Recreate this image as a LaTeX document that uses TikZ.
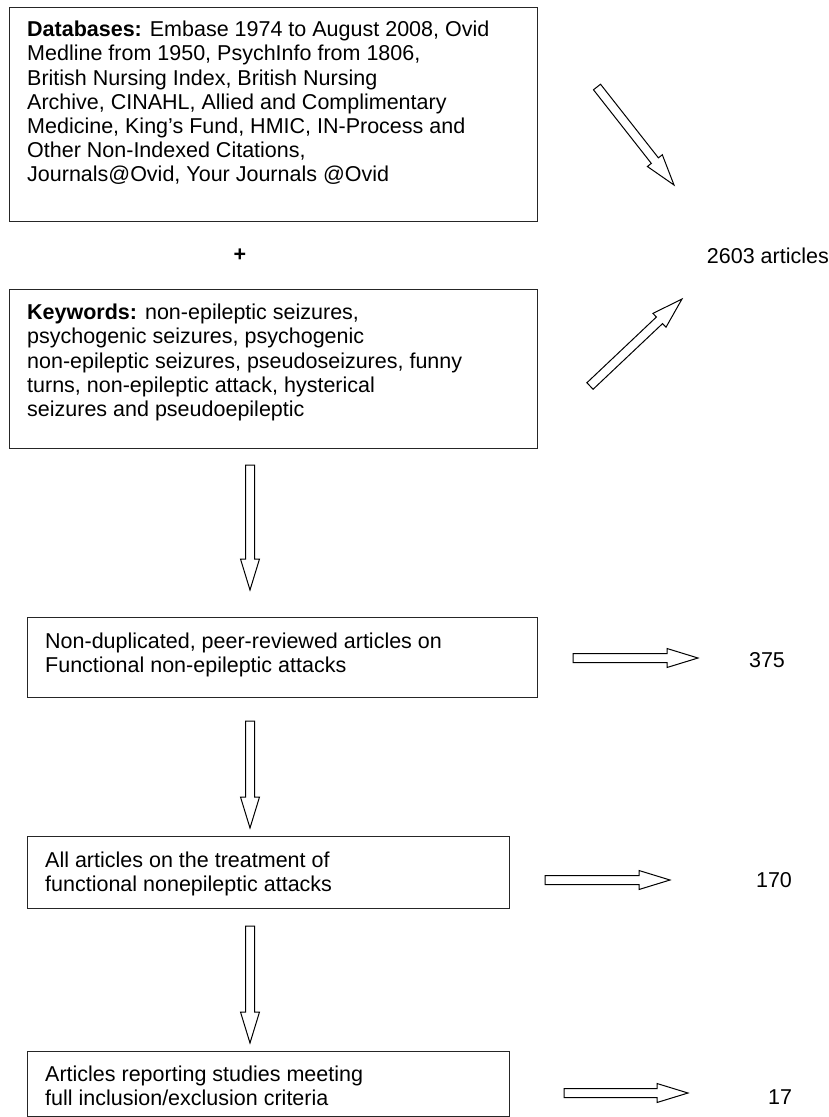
\documentclass[tikz,border=0pt]{standalone}
\usepackage{fontspec}
\setmainfont{Liberation Sans}
\usetikzlibrary{calc,positioning}

\tikzset{
  box/.style={draw=black!85, line width=1.2pt, anchor=north west, inner sep=0pt},
  boxtext/.style={anchor=north west, align=left, inner sep=0pt,
    font=\fontsize{21.5}{24.2}\selectfont},
  count/.style={inner sep=0pt, font=\fontsize{21.5}{24}\selectfont},
  blockarrow/.style={draw=black, line width=1pt, fill=white, line join=miter},
}

% hollow block arrow from #1 to #2
\newcommand{\hollowarrow}[2]{%
  \coordinate (hb) at ($(#2)!31pt!(#1)$);
  \draw[blockarrow] ($(#1)!4.5pt!90:(#2)$) -- ($(hb)!4.5pt!-90:(#1)$)
    -- ($(hb)!9.5pt!-90:(#1)$) -- (#2) -- ($(hb)!9.5pt!90:(#1)$)
    -- ($(hb)!4.5pt!90:(#1)$) -- ($(#1)!4.5pt!-90:(#2)$) -- cycle;
}

\begin{document}
\begin{tikzpicture}[x=1pt, y=-1pt]
\fill[white] (0,0) rectangle (829,1117);
\useasboundingbox (0,0) rectangle (829,1117);

%Search
\node (db) [box, minimum width=528pt, minimum height=214pt] at (9,7) {};
\node (dbtext) [boxtext] at (27,21) {\textbf{Databases:} Embase 1974 to August 2008, Ovid\\
  Medline from 1950, PsychInfo from 1806,\\
  British Nursing Index, British Nursing\\
  Archive, CINAHL, Allied and Complimentary\\
  Medicine, King’s Fund, HMIC, IN-Process and\\
  Other Non-Indexed Citations,\\
  Journals@Ovid, Your Journals @Ovid};

\node (plus) [count] at (240,255) {\textbf{+}};

\node (kw) [box, minimum width=528pt, minimum height=159pt] at (9,289) {};
\node (kwtext) [boxtext] at (27,304) {\textbf{Keywords:} non-epileptic seizures,\\
  psychogenic seizures, psychogenic\\
  non-epileptic seizures, pseudoseizures, funny\\
  turns, non-epileptic attack, hysterical\\
  seizures and pseudoepileptic};

\node (total) [count, anchor=east] at (829,256) {2603 articles};

\coordinate (dbs) at (597,87);
\coordinate (dbe) at (674,185);
\coordinate (kws) at (590,386);
\coordinate (kwe) at (682,299);
\hollowarrow{dbs}{dbe}
\hollowarrow{kws}{kwe}

%Screening
\node (nodup) [box, minimum width=510pt, minimum height=80pt] at (27,617) {};
\node (nouptext) [boxtext] at (45,633) {Non-duplicated, peer-reviewed articles on\\
  Functional non-epileptic attacks};

\node (treat) [box, minimum width=482pt, minimum height=72pt] at (27,836) {};
\node (treattext) [boxtext] at (45,852) {All articles on the treatment of\\
  functional nonepileptic attacks};

\node (incl) [box, minimum width=482pt, minimum height=65pt] at (27,1051) {};
\node (incltext) [boxtext] at (45,1066) {Articles reporting studies meeting\\
  full inclusion/exclusion criteria};

\node (n1) [count] at (767,660) {375};
\node (n2) [count] at (774,880) {170};
\node (n3) [count] at (780,1097) {17};

\coordinate (v1s) at (250,465);
\coordinate (v1e) at (250,590);
\coordinate (v2s) at (250,721);
\coordinate (v2e) at (250,828);
\coordinate (v3s) at (250,926);
\coordinate (v3e) at (250,1043);
\hollowarrow{v1s}{v1e}
\hollowarrow{v2s}{v2e}
\hollowarrow{v3s}{v3e}

\coordinate (h1s) at (573,658);
\coordinate (h1e) at (698,658);
\coordinate (h2s) at (545,880);
\coordinate (h2e) at (670,880);
\coordinate (h3s) at (564,1093);
\coordinate (h3e) at (688,1093);
\hollowarrow{h1s}{h1e}
\hollowarrow{h2s}{h2e}
\hollowarrow{h3s}{h3e}
\end{tikzpicture}
\end{document}
